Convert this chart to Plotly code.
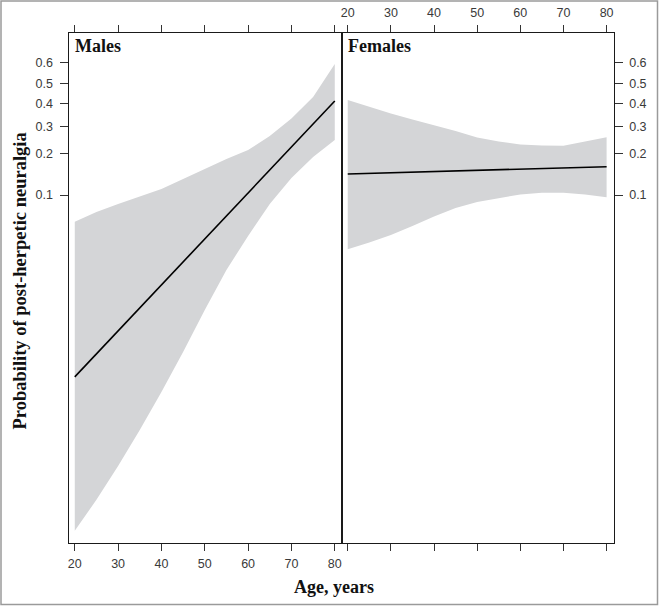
import numpy as np
import plotly.graph_objects as go

# ---- data (probabilities) ----
ages_band = [20, 25, 30, 35, 40, 45, 50, 55, 60, 65, 70, 75, 80]
ages_line = [20, 30, 40, 50, 60, 70, 80]

male_fit = [0.0031, 0.0076, 0.0187, 0.045, 0.104, 0.222, 0.414]
male_upper = [0.0617, 0.0737, 0.0852, 0.0975, 0.1112, 0.1321, 0.1565,
              0.1842, 0.2123, 0.2619, 0.3331, 0.4331, 0.5938]
male_lower = [0.000151, 0.000277, 0.000539, 0.001093, 0.002305, 0.005045,
              0.01145, 0.02483, 0.0473, 0.0852, 0.1345, 0.1902, 0.2470]

female_fit = [0.1439, 0.1470, 0.1500, 0.1530, 0.1560, 0.1592, 0.1625]
female_upper = [0.4188, 0.3857, 0.3559, 0.3293, 0.3058, 0.2814, 0.2563,
                0.2416, 0.2309, 0.2274, 0.2267, 0.2416, 0.2569]
female_lower = [0.0368, 0.0419, 0.0482, 0.0570, 0.0679, 0.0793, 0.0884,
                0.0949, 0.1010, 0.1043, 0.1043, 0.1010, 0.0961]

prob_ticks = [0.1, 0.2, 0.3, 0.4, 0.5, 0.6]
prob_labels = ["0.1", "0.2", "0.3", "0.4", "0.5", "0.6"]
age_ticks = [20, 30, 40, 50, 60, 70, 80]
panel_names = ["Males", "Females"]


def logit(p):
    p = np.asarray(p, dtype=float)
    return np.log(p / (1 - p))


W, H = 659, 606
BAND = "#d4d5d7"
AXC = "#1a1a1a"
TICKC = "#333333"
LABC = "#3a3a3a"
SANS = "Liberation Sans, Arial, sans-serif"
SERIF = "Liberation Serif, Times New Roman, serif"

fig = go.Figure()

panels = [
    (male_fit, male_upper, male_lower, "x", "y"),
    (female_fit, female_upper, female_lower, "x2", "y2"),
]
for fit, up, lo, xa, ya in panels:
    fig.add_trace(go.Scatter(
        x=ages_band + ages_band[::-1],
        y=np.concatenate([logit(up), logit(lo)[::-1]]),
        fill="toself", fillcolor=BAND, line=dict(width=0),
        mode="lines", hoverinfo="skip", showlegend=False,
        xaxis=xa, yaxis=ya))
    fig.add_trace(go.Scatter(
        x=ages_line, y=logit(fit), mode="lines",
        line=dict(color="black", width=1.6),
        showlegend=False, xaxis=xa, yaxis=ya))


def px_x(v):
    return v / W


def px_y(v):
    return (H - v) / H


xr = [18.6, 81.6]
yr = [float(logit([0.6])[0]) - 9.4395, float(logit([0.6])[0]) + 0.584]
ydom = [px_y(542.7), px_y(33)]

common_x = dict(range=xr, tickvals=age_ticks, ticks="outside", ticklen=7,
                tickwidth=1.2, tickcolor=TICKC, showline=True, linecolor=AXC,
                linewidth=1.4, showgrid=False, zeroline=False,
                tickfont=dict(family=SANS, size=12.5, color=LABC))
common_y = dict(range=yr, tickvals=list(logit(prob_ticks)), ticktext=prob_labels,
                ticks="outside", ticklen=8, tickwidth=1.2, tickcolor=TICKC,
                showline=True, linecolor=AXC, linewidth=1.4, showgrid=False,
                zeroline=False, ticklabelstandoff=4,
                tickfont=dict(family=SANS, size=12.5, color=LABC))

fig.update_layout(
    width=W, height=H, margin=dict(l=0, r=0, t=0, b=0),
    paper_bgcolor="white", plot_bgcolor="white",
    xaxis=dict(domain=[px_x(68.7), px_x(341.7)], anchor="y", side="bottom",
               mirror="ticks", ticklabelstandoff=2, **common_x),
    xaxis2=dict(domain=[px_x(341.7), px_x(613.5)], anchor="y2", side="top",
                mirror="ticks", ticklabelstandoff=3, **common_x),
    yaxis=dict(domain=ydom, anchor="x", side="left", mirror=True, **common_y),
    yaxis2=dict(domain=ydom, anchor="x2", side="right", mirror=True, **common_y),
)

# panel strip labels
fig.add_annotation(text="<b>%s</b>" % panel_names[0], x=px_x(73), y=px_y(46.5),
                   xref="paper", yref="paper", xanchor="left", yanchor="middle",
                   showarrow=False, font=dict(family=SERIF, size=18, color="#111"))
fig.add_annotation(text="<b>%s</b>" % panel_names[1], x=px_x(346), y=px_y(46.5),
                   xref="paper", yref="paper", xanchor="left", yanchor="middle",
                   showarrow=False, font=dict(family=SERIF, size=18, color="#111"))

# axis titles
fig.add_annotation(text="<b>Age, years</b>", x=px_x(333.5), y=px_y(587),
                   xref="paper", yref="paper", xanchor="center", yanchor="middle",
                   showarrow=False, font=dict(family=SERIF, size=18, color="#111"))
fig.add_annotation(text="<b>Probability of post-herpetic neuralgia</b>",
                   x=px_x(19), y=px_y(281.5), textangle=-90,
                   xref="paper", yref="paper", xanchor="center", yanchor="middle",
                   showarrow=False, font=dict(family=SERIF, size=18.5, color="#111"))

# outer grey frame
fig.add_shape(type="rect", xref="paper", yref="paper",
              x0=px_x(1), x1=px_x(657.5), y0=px_y(604.5), y1=px_y(1),
              line=dict(color="#9a9a9a", width=1.5), fillcolor="rgba(0,0,0,0)")

fig.write_html("out.html", config={"displayModeBar": False},
               post_script="document.body.style.margin='0';"
                           "document.body.style.overflow='hidden';")
